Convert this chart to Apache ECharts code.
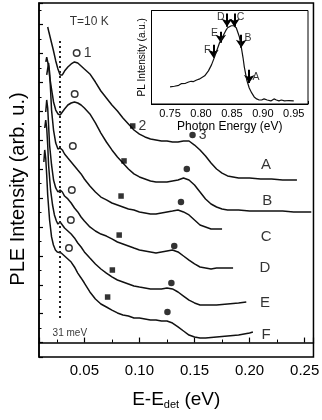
<!DOCTYPE html>
<html><head><meta charset="utf-8">
<script src="https://cdn.jsdelivr.net/npm/echarts@6/dist/echarts.min.js"></script>
<style>html,body{margin:0;padding:0;background:#fff}#c{width:322px;height:420px}</style>
</head><body><div id="c"></div>
<script>
// ---- main PLE spectra (x: E-Edet in eV, y: PLE intensity, arb. u.) ----
const curveA = [[0.0167,21.84],[0.018,21.42],[0.020,20.80],[0.022,20.18],[0.024,19.49],[0.026,18.93],[0.028,18.52],[0.029,18.45],[0.030,18.52],[0.032,18.79],[0.035,19.07],[0.038,19.28],[0.041,19.42],[0.044,19.35],[0.047,19.14],[0.050,18.93],[0.055,18.59],[0.060,18.03],[0.065,17.41],[0.070,16.93],[0.075,16.44],[0.080,16.03],[0.085,15.54],[0.090,15.13],[0.095,14.71],[0.100,14.43],[0.105,14.23],[0.110,14.09],[0.115,14.02],[0.120,13.95],[0.125,13.95],[0.130,13.88],[0.135,13.88],[0.140,13.95],[0.145,13.95],[0.150,13.67],[0.155,13.33],[0.160,12.91],[0.165,12.43],[0.170,12.01],[0.175,11.73],[0.180,11.53],[0.185,11.46],[0.190,11.39],[0.200,11.39],[0.210,11.32],[0.220,11.32],[0.230,11.25],[0.243,11.25]];
const curveB = [[0.0150,19.42],[0.0158,19.76],[0.0167,19.69],[0.0175,19.14],[0.0184,18.45],[0.020,17.62],[0.022,16.65],[0.024,16.09],[0.026,15.82],[0.028,15.75],[0.030,15.96],[0.032,16.16],[0.035,16.44],[0.038,16.58],[0.041,16.65],[0.044,16.58],[0.047,16.44],[0.050,16.23],[0.055,15.82],[0.060,15.20],[0.065,14.50],[0.070,13.88],[0.075,13.33],[0.080,12.84],[0.085,12.43],[0.090,12.01],[0.095,11.67],[0.100,11.46],[0.105,11.32],[0.110,11.18],[0.115,11.11],[0.120,11.11],[0.125,11.11],[0.130,11.18],[0.135,11.25],[0.140,11.39],[0.145,11.25],[0.150,10.90],[0.155,10.42],[0.160,9.94],[0.165,9.59],[0.170,9.38],[0.175,9.24],[0.180,9.17],[0.190,9.17],[0.200,9.10],[0.210,9.10],[0.220,9.10],[0.230,9.10],[0.240,9.04],[0.250,9.04],[0.256,9.04]];
const curveC = [[0.0158,18.52],[0.0175,19.35],[0.0184,18.72],[0.0193,17.48],[0.0202,16.09],[0.022,14.71],[0.024,13.81],[0.026,13.40],[0.028,13.46],[0.029,13.53],[0.030,13.33],[0.032,13.05],[0.035,12.77],[0.038,12.50],[0.041,12.22],[0.044,11.94],[0.047,11.67],[0.050,11.32],[0.055,10.83],[0.060,10.42],[0.065,10.07],[0.070,9.87],[0.075,9.66],[0.080,9.52],[0.085,9.38],[0.090,9.24],[0.095,9.17],[0.100,9.04],[0.105,8.97],[0.110,8.90],[0.115,8.90],[0.120,8.97],[0.125,9.04],[0.130,9.10],[0.135,9.17],[0.140,9.04],[0.145,8.83],[0.150,8.48],[0.155,8.14],[0.160,8.00],[0.165,7.86],[0.170,7.86],[0.175,7.86]];
const curveD = [[0.0149,15.96],[0.0158,16.79],[0.0167,16.23],[0.0175,15.06],[0.0184,13.67],[0.0202,12.29],[0.022,11.25],[0.024,10.70],[0.026,10.42],[0.027,10.42],[0.028,10.56],[0.029,10.63],[0.030,10.42],[0.032,10.14],[0.035,9.94],[0.038,9.66],[0.041,9.31],[0.044,9.04],[0.047,8.69],[0.050,8.41],[0.055,8.00],[0.060,7.72],[0.065,7.51],[0.070,7.37],[0.075,7.17],[0.080,6.96],[0.085,6.82],[0.090,6.68],[0.095,6.54],[0.100,6.41],[0.105,6.34],[0.110,6.27],[0.115,6.20],[0.120,6.27],[0.125,6.34],[0.130,6.41],[0.135,6.27],[0.140,5.99],[0.145,5.71],[0.150,5.44],[0.155,5.23],[0.160,5.16],[0.165,5.09],[0.170,5.16],[0.175,5.16],[0.180,5.16],[0.185,5.16]];
const curveE = [[0.0140,14.85],[0.0149,15.40],[0.0158,14.85],[0.0167,13.67],[0.0175,12.29],[0.0193,10.56],[0.0211,9.52],[0.0228,8.83],[0.0246,8.41],[0.026,8.20],[0.027,8.27],[0.028,8.34],[0.029,8.27],[0.030,8.14],[0.032,7.93],[0.035,7.72],[0.038,7.51],[0.041,7.24],[0.044,6.89],[0.047,6.61],[0.050,6.27],[0.055,5.85],[0.060,5.44],[0.065,5.09],[0.070,4.81],[0.075,4.54],[0.080,4.33],[0.085,4.19],[0.090,4.05],[0.095,3.91],[0.100,3.84],[0.105,3.78],[0.110,3.71],[0.115,3.71],[0.120,3.71],[0.125,3.78],[0.130,3.71],[0.135,3.50],[0.140,3.22],[0.145,2.94],[0.150,2.74],[0.155,2.60],[0.160,2.60],[0.170,2.60],[0.180,2.67],[0.190,2.74],[0.197,2.81]];
const curveF = [[0.0132,12.50],[0.0140,13.33],[0.0149,12.77],[0.0158,11.60],[0.0167,10.21],[0.0184,8.48],[0.0202,7.31],[0.0219,6.75],[0.0237,6.41],[0.0254,6.27],[0.0263,6.34],[0.0272,6.27],[0.029,6.20],[0.032,5.99],[0.035,5.78],[0.038,5.57],[0.041,5.23],[0.044,4.81],[0.047,4.47],[0.050,4.12],[0.055,3.50],[0.060,3.01],[0.065,2.67],[0.070,2.46],[0.075,2.25],[0.080,2.05],[0.085,1.91],[0.090,1.84],[0.095,1.70],[0.100,1.70],[0.105,1.63],[0.110,1.56],[0.115,1.56],[0.120,1.49],[0.125,1.49],[0.130,1.35],[0.135,1.08],[0.140,0.80],[0.145,0.52],[0.150,0.38],[0.155,0.31],[0.160,0.31],[0.170,0.38],[0.180,0.45],[0.190,0.52],[0.200,0.66],[0.203,0.73]];
const curveNames = ['A','B','C','D','E','F'];
const curveLabelPos = [[0.215,12.29],[0.216,9.80],[0.215,7.31],[0.214,5.16],[0.214,2.74],[0.215,0.52]];
// peak markers
const openCircles = [[0.0430,20.04],[0.0412,17.20],[0.0395,13.60],[0.0386,10.56],[0.0377,8.48],[0.0360,6.54]];
const squares = [[0.0939,14.99],[0.0860,12.57],[0.0833,10.14],[0.0816,7.44],[0.0754,5.02],[0.0711,3.15]];
const filledCircles = [[0.1482,14.36],[0.1430,12.01],[0.1377,9.73],[0.1316,6.68],[0.1290,4.12],[0.1254,2.11]];
const markerNumbers = ['1','2','3'];
const dottedLineX = 0.028;
const dottedLineY = [1.70, 20.94];
const tempText = 'T=10 K';
const tempPos = [0.0544, 22.18];
const mevText = '31 meV';
const mevPos = [0.0368, 0.66];
const xTickLabels = ['0.05','0.10','0.15','0.20','0.25'];

// ---- inset PL spectrum ----
const insetCurve = [[0.750,1.28],[0.753,1.36],[0.757,1.33],[0.760,1.43],[0.764,1.40],[0.768,1.52],[0.771,1.58],[0.775,1.55],[0.780,1.65],[0.784,1.70],[0.788,1.68],[0.793,1.80],[0.797,1.86],[0.800,1.95],[0.806,2.11],[0.812,2.48],[0.817,2.93],[0.822,3.53],[0.826,4.06],[0.830,4.59],[0.835,5.04],[0.840,5.49],[0.843,5.71],[0.849,5.86],[0.853,5.86],[0.857,5.71],[0.862,5.04],[0.865,4.29],[0.868,3.46],[0.870,2.78],[0.874,1.80],[0.878,1.20],[0.882,0.83],[0.886,0.53],[0.890,0.38],[0.894,0.30],[0.898,0.30],[0.902,0.38],[0.907,0.30],[0.913,0.23],[0.918,0.38],[0.922,0.30],[0.926,0.23],[0.930,0.30],[0.935,0.23],[0.942,0.26],[0.950,0.23]];
const arrowLetters = ['A','B','C','D','E','F'];
const arrowX = [0.878,0.865,0.854,0.842,0.832,0.820];
const arrowTail = [2.56,5.19,6.77,6.77,5.41,4.44];
const arrowTip = [1.58,4.21,5.79,5.79,4.59,3.46];
const arrowLetterPos = [[0.889,2.03],[0.876,4.96],[0.864,6.54],[0.832,6.54],[0.822,5.34],[0.810,4.06]];

const FONT = 'Liberation Sans, Arial, Helvetica, sans-serif';
const chart = echarts.init(document.getElementById('c'), null, {renderer:'canvas'});

const mainLines = [curveA,curveB,curveC,curveD,curveE,curveF].map((d,i)=>({
  type:'line', xAxisIndex:0, yAxisIndex:0, data:d, showSymbol:false, symbol:'none',
  lineStyle:{color:'#111', width:1.5}, silent:true, z:3,
  markLine: i===0 ? {silent:true, symbol:['none','none'], label:{show:false},
    lineStyle:{color:'#222', type:[2,3], width:2},
    data:[[{coord:[dottedLineX,dottedLineY[0]]},{coord:[dottedLineX,dottedLineY[1]]}]]} : undefined
}));

function markerSeries(pts, symbol, size, fill, numLabel){
  return {type:'scatter', xAxisIndex:0, yAxisIndex:0, symbol:symbol, symbolSize:size, z:5, silent:true,
    itemStyle:{color:fill, borderColor:'#000', borderWidth: fill==='#fff'?1.5:0},
    data: pts.map((p,i)=> i===0 ? {value:p, label:{show:true, formatter:numLabel, position:'right', distance:3,
       fontSize:14, color:'#000', fontFamily:FONT}} : {value:p})};
}

const option = {
  animation:false,
  backgroundColor:'#fff',
  grid:[
    {left:31, top:3, right:7, bottom:63, show:true, borderColor:'#000', borderWidth:1.5, backgroundColor:'transparent'},
    {left:151.5, top:10.5, right:14, bottom:316, show:true, borderColor:'#000', borderWidth:1, backgroundColor:'#fff', z:4}
  ],
  xAxis:[
    {type:'value', gridIndex:0, min:0.0088, max:0.258, minInterval:0.05, maxInterval:0.05, splitNumber:5,
     splitLine:{show:false},
     axisLine:{lineStyle:{color:'#000', width:1.5}},
     axisTick:{inside:true, length:5, lineStyle:{color:'#000', width:1.2}},
     minorTick:{show:true, splitNumber:2, length:3, lineStyle:{color:'#000', width:1}},
     axisLabel:{showMinLabel:false, showMaxLabel:false, margin:6, fontSize:15, color:'#000', fontFamily:FONT,
       formatter:(v)=>{const k=Math.round(v/0.05); return (Math.abs(v-k*0.05)<1e-6 && k>0) ? xTickLabels[k-1] : '';}},
     name:'{a|E-E}{s|det}{a| (eV)}', nameLocation:'middle', nameGap:33,
     nameTextStyle:{color:'#000', fontFamily:FONT, rich:{
       a:{fontSize:19, lineHeight:20, verticalAlign:'top', color:'#000', fontFamily:FONT},
       s:{fontSize:11, lineHeight:12, verticalAlign:'bottom', padding:[15,0,0,0], color:'#000', fontFamily:FONT}}}},
    {type:'value', gridIndex:1, min:0.72, max:0.973, minInterval:0.05, maxInterval:0.05, splitNumber:5,
     splitLine:{show:false},
     axisLine:{lineStyle:{color:'#000', width:1}},
     axisTick:{inside:true, length:3, lineStyle:{color:'#000'}},
     minorTick:{show:true, splitNumber:2, length:2, lineStyle:{color:'#000'}},
     axisLabel:{showMinLabel:false, showMaxLabel:false, margin:4, fontSize:11, color:'#000', fontFamily:FONT,
       formatter:(v)=>{const k=Math.round(v/0.05); return Math.abs(v-k*0.05)<1e-6 ? v.toFixed(2) : '';}},
     name:'Photon Energy (eV)', nameLocation:'middle', nameGap:17,
     nameTextStyle:{fontSize:12, color:'#000', fontFamily:FONT}}
  ],
  yAxis:[
    {type:'value', gridIndex:0, min:-1, max:23.5, minInterval:2, maxInterval:2, splitNumber:12,
     splitLine:{show:false},
     axisLine:{lineStyle:{color:'#000', width:1.5}},
     axisTick:{inside:true, length:4, lineStyle:{color:'#000', width:1.2}},
     minorTick:{show:true, splitNumber:2, length:2.5, lineStyle:{color:'#000', width:1}},
     axisLabel:{show:false},
     name:'PLE Intensity (arb. u.)', nameLocation:'middle', nameGap:11,
     nameTextStyle:{fontSize:20, color:'#000', fontFamily:FONT, padding:[0,18,0,0]}},
    {type:'value', gridIndex:1, min:0, max:7, interval:1,
     splitLine:{show:false},
     axisLine:{lineStyle:{color:'#000', width:1}},
     axisTick:{inside:true, length:3, lineStyle:{color:'#000'}},
     axisLabel:{show:false},
     name:'PL Intensity (a.u.)', nameLocation:'middle', nameGap:4,
     nameTextStyle:{fontSize:10, color:'#000', fontFamily:FONT}}
  ],
  series:[
    ...mainLines,
    markerSeries(openCircles,'circle',6.5,'#fff',markerNumbers[0]),
    markerSeries(squares,'rect',5.5,'#000',markerNumbers[1]),
    markerSeries(filledCircles,'circle',6.5,'#000',markerNumbers[2]),
    {type:'scatter', xAxisIndex:0, yAxisIndex:0, symbolSize:1, silent:true, itemStyle:{color:'rgba(0,0,0,0)'}, z:6,
     data: curveLabelPos.map((p,i)=>({value:p, label:{show:true, formatter:curveNames[i], position:'inside',
       fontSize:15, color:'#000', fontFamily:FONT}}))},
    {type:'scatter', xAxisIndex:0, yAxisIndex:0, symbolSize:1, silent:true, itemStyle:{color:'rgba(0,0,0,0)'}, z:6,
     data:[{value:tempPos, label:{show:true, formatter:tempText, position:'inside', fontSize:12, color:'#000', fontFamily:FONT}},
           {value:mevPos, label:{show:true, formatter:mevText, position:'inside', fontSize:10, color:'#000', fontFamily:FONT}}]},
    {type:'line', xAxisIndex:1, yAxisIndex:1, data:insetCurve, showSymbol:false, symbol:'none', silent:true, z:6,
     lineStyle:{color:'#111', width:1.2},
     markLine:{silent:true, symbol:['none','arrow'], symbolSize:8, label:{show:false},
       lineStyle:{color:'#000', type:'solid', width:2},
       data: arrowX.map((x,i)=>[{coord:[x,arrowTail[i]]},{coord:[x,arrowTip[i]]}])}},
    {type:'scatter', xAxisIndex:1, yAxisIndex:1, symbolSize:1, silent:true, itemStyle:{color:'rgba(0,0,0,0)'}, z:7,
     data: arrowLetterPos.map((p,i)=>({value:p, label:{show:true, formatter:arrowLetters[i], position:'inside',
       fontSize:10.5, color:'#000', fontFamily:FONT}}))}
  ]
};
chart.setOption(option);
</script>
</body></html>
